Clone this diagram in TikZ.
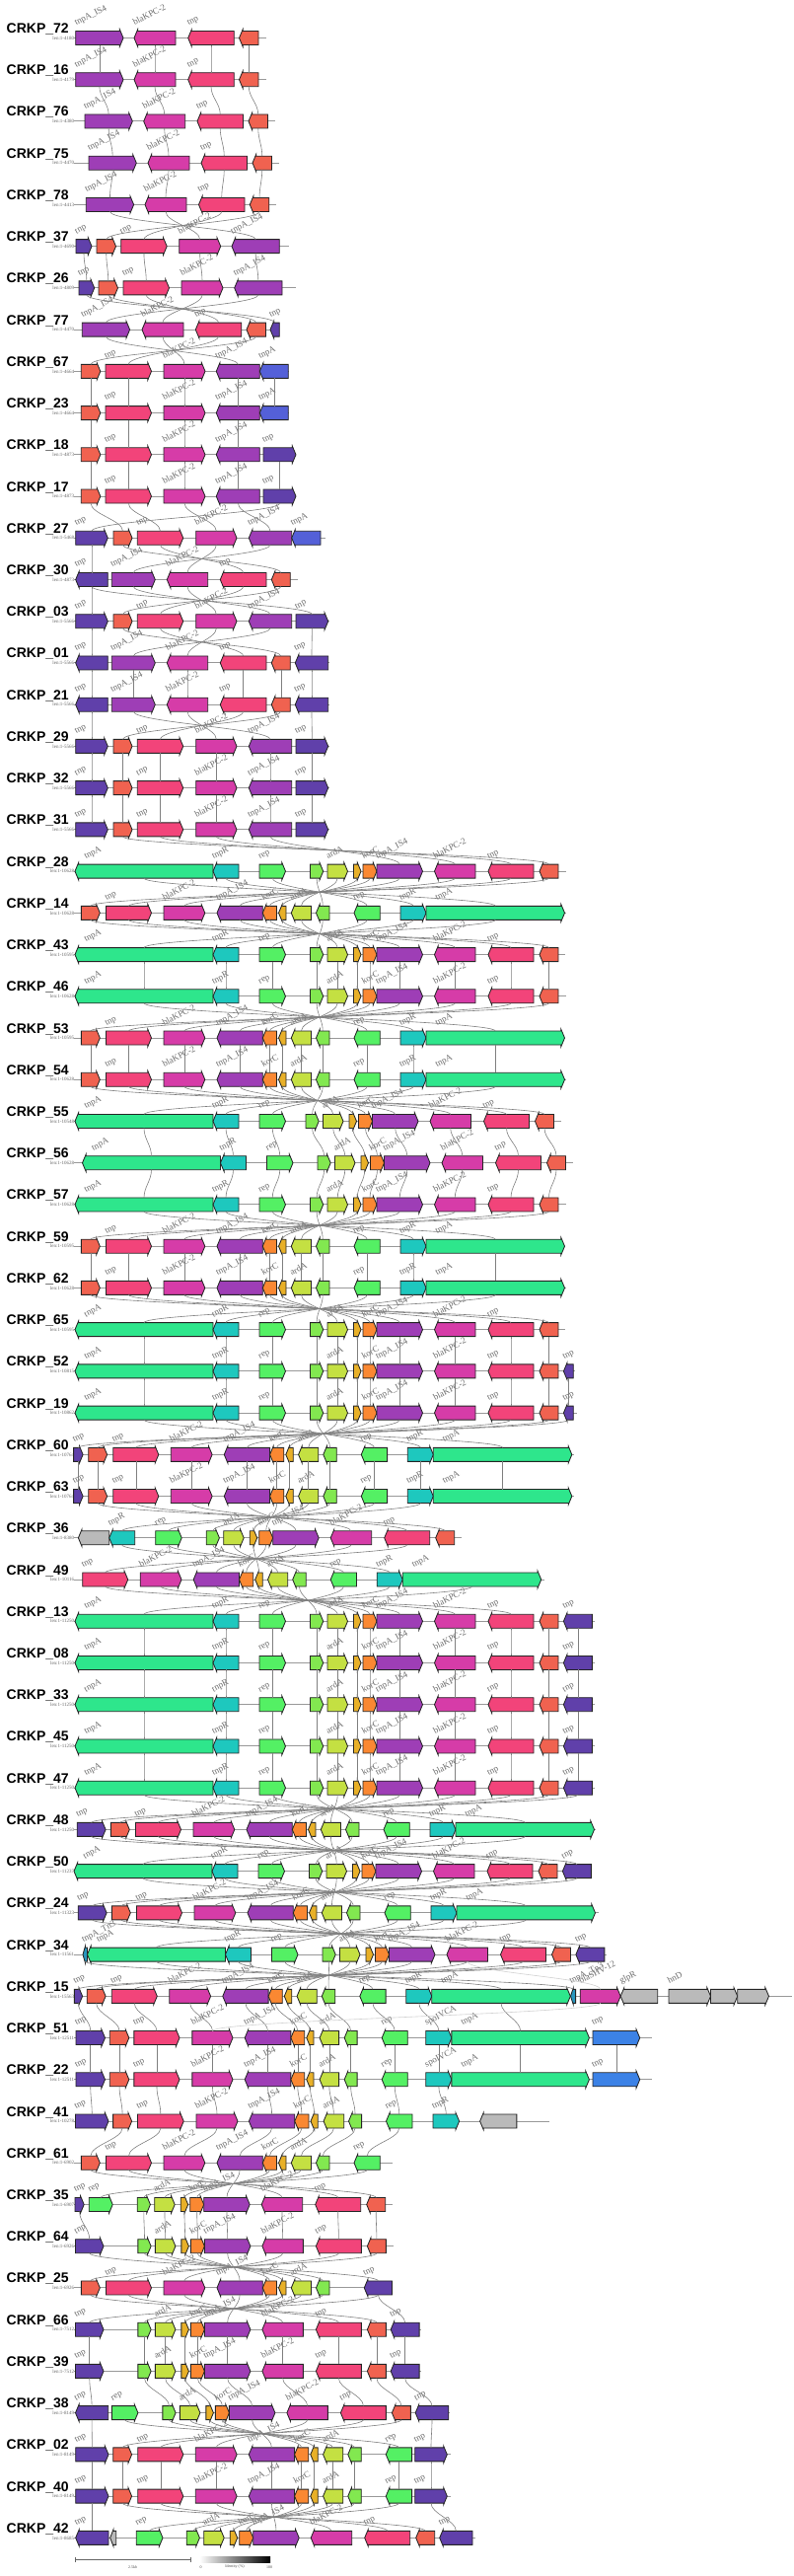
\documentclass[tikz,border=0pt]{standalone}
\usepackage{fontspec}
\setmainfont{Liberation Serif}
\newfontfamily\rowfont{Liberation Sans}
\definecolor{cP}{RGB}{158,62,182}
\definecolor{cB}{RGB}{214,60,168}
\definecolor{cT}{RGB}{242,68,122}
\definecolor{cR}{RGB}{240,98,80}
\definecolor{cD}{RGB}{96,64,170}
\definecolor{cU}{RGB}{84,96,216}
\definecolor{cG}{RGB}{46,230,140}
\definecolor{cE}{RGB}{30,200,190}
\definecolor{cQ}{RGB}{84,240,100}
\definecolor{cL}{RGB}{130,232,80}
\definecolor{cA}{RGB}{196,224,66}
\definecolor{cY}{RGB}{232,176,40}
\definecolor{cK}{RGB}{250,136,50}
\definecolor{cS}{RGB}{186,186,186}
\definecolor{cX}{RGB}{40,150,190}
\definecolor{cW}{RGB}{60,130,230}
\tikzset{
  track/.style={draw=black!40, line width=1pt},
  genebox/.style={rectangle, draw=none, inner sep=0pt, outer sep=0pt, minimum height=14pt},
  geneshape/.style={draw=black!85, line width=0.85pt, line join=miter},
  glabel/.style={font=\fontsize{9}{9}\selectfont, text=black!58, inner sep=0pt},
  rowname/.style={font=\rowfont\bfseries\fontsize{14}{14}\selectfont, inner sep=0pt},
  lentext/.style={font=\fontsize{5}{5}\selectfont, text=black!60, inner sep=0pt},
  link/.style={draw=black!50, line width=0.6pt},
  legtext/.style={font=\fontsize{4}{4}\selectfont, text=black!70, inner sep=0pt},
}
\makeatletter
\newcommand\deftype[5]{%
  \expandafter\def\csname gcol@#1\endcsname{#2}%
  \expandafter\def\csname glab@#1\endcsname{#3}%
  \expandafter\def\csname gnum@#1\endcsname{#4}%
  \expandafter\def\csname gofs@#1\endcsname{#5}}
\deftype{P}{cP}{tnpA\_IS4}{1}{0.5}
\deftype{B}{cB}{blaKPC-2}{2}{0.5}
\deftype{T}{cT}{tnp}{3}{0.5}
\deftype{R}{cR}{}{4}{0.5}
\deftype{U}{cU}{tnpA}{5}{0.5}
\deftype{G}{cG}{tnpA}{6}{11}
\deftype{E}{cE}{tnpR}{7}{0.5}
\deftype{V}{cE}{spoIVCA}{7}{0.5}
\deftype{Q}{cQ}{rep}{8}{0.5}
\deftype{L}{cL}{}{9}{0.5}
\deftype{A}{cA}{ardA}{10}{0.5}
\deftype{Y}{cY}{}{11}{0.5}
\deftype{K}{cK}{korC}{12}{0.5}
\deftype{X}{cX}{tnpA\_Tn3}{13}{0.5}
\deftype{H}{cB}{blaSHV-12}{14}{0.5}
\deftype{W}{cW}{tnp}{15}{0.5}
\deftype{D}{cD}{tnp}{20}{0.5}
\deftype{DL}{cD}{tnp}{21}{0.5}
\deftype{DR}{cD}{tnp}{22}{0.5}
\deftype{S}{cS}{}{0}{0.5}
\deftype{SG}{cS}{glpR}{0}{0.5}
\deftype{SH}{cS}{hnD}{0}{0.5}
% #1 row, #2 name, #3 len, #4 line end, #5 shift, #6 genes
\newcommand\genrow[6]{%
  \pgfmathsetmacro\ry{38.5+42.23*#1}%
  \draw[track] (75,\ry) -- (#4,\ry);
  \node[rowname, anchor=base west] (name#1) at (6.5,\ry-5) {CRKP\_#2};
  \node[lentext, anchor=east] (len#1) at (75.3,\ry) {len:1-#3};
  \edef\glist{#6}%
  \foreach \xa/\xb/\gdir/\ty [count=\gi] in \glist {%
    \pgfmathsetmacro\ga{\xa+#5}%
    \pgfmathsetmacro\gb{\xb+#5}%
    \pgfmathsetmacro\gw{\gb-\ga}%
    \pgfmathsetmacro\gc{(\ga+\gb)/2}%
    \pgfmathsetmacro\hh{min(3.6,\gw*0.55)}%
    \edef\gcol{\csname gcol@\ty\endcsname}%
    \node[genebox, minimum width=\gw pt] (g#1-\gi) at (\gc,\ry) {};
    \ifnum\gdir>0\relax
      \filldraw[geneshape, fill=\gcol] (\ga,\ry-7) -- (\gb-\hh,\ry-7) -- (\gb-\hh,\ry-8.6) -- (\gb,\ry) -- (\gb-\hh,\ry+8.6) -- (\gb-\hh,\ry+7) -- (\ga,\ry+7) -- cycle;
    \else
      \filldraw[geneshape, fill=\gcol] (\gb,\ry-7) -- (\ga+\hh,\ry-7) -- (\ga+\hh,\ry-8.6) -- (\ga,\ry) -- (\ga+\hh,\ry+8.6) -- (\ga+\hh,\ry+7) -- (\gb,\ry+7) -- cycle;
    \fi
    \expandafter\ifx\csname glab@\ty\endcsname\empty\else
      \node[glabel, rotate=27, anchor=base west] (lab#1-\gi) at (\ga+\csname gofs@\ty\endcsname,\ry-12.5) {\csname glab@\ty\endcsname};
    \fi
    \expandafter\xdef\csname gt@#1@\gi\endcsname{\csname gnum@\ty\endcsname}%
    \xdef\lastgi{\gi}%
  }%
  \expandafter\xdef\csname gn@#1\endcsname{\lastgi}%
}
\newcommand\maybelink[4]{%
  \edef\ta{\csname gt@#1@#2\endcsname}%
  \edef\tb{\csname gt@#3@#4\endcsname}%
  \def\dolink{0}%
  \ifnum\ta=\tb\relax \ifnum\ta>0\relax \def\dolink{1}\fi\fi
  \ifnum\ta>19\relax \ifnum\tb>19\relax
    \ifnum\ta=20\relax \def\dolink{1}\fi
    \ifnum\tb=20\relax \def\dolink{1}\fi
  \fi\fi
  \ifnum\dolink=1\relax
    \draw[link] (g#1-#2.south) .. controls +(0,11) and +(0,-11) .. (g#3-#4.north);
  \fi}
\makeatother
\def\TFmid{314.5/327.7/1/L,332/352.5/1/A,358.5/366/1/Y,368/382/1/K,382/428.5/1/P,440.5/482/-1/B,495/541/-1/T,547/566/-1/R}
\def\TF{76/216/-1/G,216/242/-1/E,263/289.5/1/Q,\TFmid}
\def\TRmid{220/266.3/-1/P,266.3/280.5/-1/K,282.5/290/-1/Y,295.3/315.5/-1/A,320.5/334/-1/L}
\def\TRnoR{107.5/153.5/1/T,166/207.8/1/B,\TRmid,359/385.3/-1/Q,406/432/1/E,432/572.5/1/G}
\def\TR{82.4/101.3/1/R,\TRnoR}
\def\GA{76.7/125/1/P,136/178/-1/B,190.7/237.3/-1/T,242.5/262/-1/R}
\def\GC{82.3/101.8/1/R,107/153.5/1/T,166/208/1/B,219.3/263.3/-1/P,263.3/292.3/-1/U}
\def\GD{82.3/101.8/1/R,107/153.5/1/T,166/208/1/B,219.3/263.3/-1/P,267/300/1/D}
\def\GF{76.7/109.3/1/DL,115/134/1/R,139.3/185.7/1/T,198.7/240/1/B,252.3/295.7/-1/P,300/332.7/1/DR}
\def\GR{76.7/109.3/-1/DL,113.3/157.3/1/P,169.3/210.7/-1/B,223.3/270/-1/T,275.3/294.3/-1/R,299.3/332.7/-1/DR}
\def\BD{\TF,571.4/600.4/-1/D}
\def\BW{77/106.5/1/D,111.3/130.8/1/R,135.9/182/1/T,194.9/236/1/B,248.2/294.9/-1/P,294.9/308.7/-1/K,310.8/318/-1/Y,324.1/343.6/-1/A,349.2/362.1/-1/L,387.2/413.3/-1/Q,431.8/457.9/1/V,457.9/597.4/1/G,601/648.7/1/W}
\def\BS{44.4/77.7/1/DL,82.4/101.3/1/R,107.5/153.5/1/T,166/207.8/1/B,\TRmid,359/385.3/-1/Q,388.4/421/1/DR}
\begin{document}
\begin{tikzpicture}[x=1pt,y=-1pt]
\useasboundingbox (0,0) rectangle (805,2611);
\fill[white] (0,0) rectangle (805,2611);
\genrow{0}{72}{4180}{270}{0}{\GA}
\genrow{1}{16}{4179}{270}{0}{\GA}
\genrow{2}{76}{4380}{279}{0}{86/134.3/1/P,145.7/187.7/-1/B,200/246.5/-1/T,252/271.5/-1/R}
\genrow{3}{75}{4470}{283}{0}{90/138.3/1/P,150/192/-1/B,204/250.5/-1/T,256/275.5/-1/R}
\genrow{4}{78}{4413}{280}{0}{87.3/135.6/1/P,147/189/-1/B,201.5/248/-1/T,253.3/272.8/-1/R}
\genrow{5}{37}{4690}{293}{0}{77/93/1/D,98/117.5/1/R,122.7/169.2/1/T,181.7/223.7/1/B,235/283.3/-1/P}
\genrow{6}{26}{4809}{300}{0}{80/95.7/1/D,100/119.5/1/R,125/171.5/1/T,184/226/1/B,237.7/286/-1/P}
\genrow{7}{77}{4470}{283}{0}{83.3/131.6/1/P,144/186/-1/B,198.3/244.8/-1/T,250/269.5/-1/R,274/283.3/-1/D}
\genrow{8}{67}{4664}{293}{0}{\GC}
\genrow{9}{23}{4664}{293}{0}{\GC}
\genrow{10}{18}{4873}{300}{0}{\GD}
\genrow{11}{17}{4873}{300}{0}{\GD}
\genrow{12}{27}{5468}{330}{0}{76.7/109.3/1/D,115/134/1/R,139.3/185.7/1/T,198.7/240/1/B,252.3/295.7/-1/P,295.7/325/-1/U}
\genrow{13}{30}{4873}{302}{0}{76.7/109.3/-1/D,113.3/157.3/1/P,169.3/210.7/-1/B,223.3/270/-1/T,275.3/294.3/-1/R}
\genrow{14}{03}{5566}{334}{0}{\GF}
\genrow{15}{01}{5566}{334}{0}{\GR}
\genrow{16}{21}{5566}{334}{0}{\GR}
\genrow{17}{29}{5566}{334}{0}{\GF}
\genrow{18}{32}{5566}{334}{0}{\GF}
\genrow{19}{31}{5566}{334}{0}{\GF}
\genrow{20}{28}{10628}{573.6}{0}{\TF}
\genrow{21}{14}{10628}{573.6}{0}{\TR}
\genrow{22}{43}{10595}{573}{0}{\TF}
\genrow{23}{46}{10628}{573.6}{0}{\TF}
\genrow{24}{53}{10595}{573}{0}{\TR}
\genrow{25}{54}{10628}{573.6}{0}{\TR}
\genrow{26}{55}{10548}{569}{0}{76/216/-1/G,216/242/-1/E,263/289.5/1/Q,310/323.2/1/L,327.5/348/1/A,354/361.5/1/Y,363.5/377.5/1/K,377.5/424/1/P,436/477.5/-1/B,490.5/536.5/-1/T,542.5/561.5/-1/R}
\genrow{27}{56}{10628}{581}{7.5}{\TF}
\genrow{28}{57}{10628}{573.6}{0}{\TF}
\genrow{29}{59}{10595}{573}{0}{\TR}
\genrow{30}{62}{10628}{573.6}{0}{\TR}
\genrow{31}{65}{10595}{573}{0}{\TF}
\genrow{32}{52}{10815}{583}{0}{\TF,571.4/581.3/-1/D}
\genrow{33}{19}{10862}{585}{0}{\TF,571.4/581.3/-1/D}
\genrow{34}{60}{10764}{582}{7.3}{67.3/76.8/1/D,\TR}
\genrow{35}{63}{10764}{582}{7.3}{67.3/76.8/1/D,\TR}
\genrow{36}{36}{8380}{468}{-105.3}{184.7/216/-1/S,216/242/-1/E,263/289.5/1/Q,\TFmid}
\genrow{37}{49}{10116}{552}{-23.8}{\TRnoR}
\genrow{38}{13}{11250}{603}{0}{\BD}
\genrow{39}{08}{11250}{603}{0}{\BD}
\genrow{40}{33}{11250}{603}{0}{\BD}
\genrow{41}{45}{11250}{603}{0}{\BD}
\genrow{42}{47}{11250}{603}{0}{\BD}
\genrow{43}{48}{11250}{604}{30}{48.2/77.1/1/D,\TR}
\genrow{44}{50}{11237}{600}{-1}{\BD}
\genrow{45}{24}{11323}{607}{31}{48.2/77.1/1/D,\TR}
\genrow{46}{34}{11561}{615}{12.5}{71.5/76/-1/X,\TF,571.4/600.4/-1/D}
\genrow{47}{15}{15563}{803}{5.8}{69.6/77.8/1/D,\TR,572.7/577.8/-1/X,582.4/623.4/1/H,623.4/660.9/-1/SG,672.2/714.7/1/SH,714.7/741.9/1/S,741.9/773.7/1/S}
\genrow{48}{51}{12511}{661}{0}{\BW}
\genrow{49}{22}{12511}{661}{0}{\BW}
\genrow{50}{41}{10278}{557}{0}{76.5/110/1/D,114.6/133.6/1/R,139.5/186.2/1/T,199/241/1/B,252.4/298.8/-1/P,298.8/313/-1/K,315/322.2/-1/Y,328.1/348.7/-1/A,353.5/366.6/-1/L,391.5/418/-1/Q,439/465.6/1/E,486.6/523.9/-1/S}
\genrow{51}{61}{6902}{398}{0}{82.4/101.3/1/R,107.5/153.5/1/T,166/207.8/1/B,\TRmid,359/385.3/-1/Q}
\genrow{52}{35}{6907}{398}{-175.3}{251.3/260.5/1/D,265.6/289.5/1/Q,\TFmid}
\genrow{53}{64}{6926}{399}{-174.6}{251.1/279.6/1/D,\TFmid}
\genrow{54}{25}{6926}{398}{0}{82.4/101.3/1/R,107.5/153.5/1/T,166/207.8/1/B,\TRmid,369.3/397.5/-1/D}
\genrow{55}{66}{7512}{427}{-174.6}{251.1/279.6/1/DL,\TFmid,570.8/599.7/-1/DR}
\genrow{56}{39}{7512}{427}{-174.6}{251.1/279.6/1/DL,\TFmid,570.8/599.7/-1/DR}
\genrow{57}{38}{8149}{456}{-149.6}{226.1/259.3/-1/DL,263/289.5/1/Q,\TFmid,570.8/604.4/-1/DR}
\genrow{58}{02}{8149}{457}{32.3}{\BS}
\genrow{59}{40}{8149}{457}{32.3}{\BS}
\genrow{60}{42}{8685}{482}{-125.3}{202/235.3/-1/DL,237/243/-1/S,263.6/290.3/1/Q,\TFmid,571/604.3/-1/DR}
% links between neighbouring rows
\foreach \lr in {0,...,59}{%
  \pgfmathtruncatemacro\ls{\lr+1}%
  \edef\na{\csname gn@\lr\endcsname}%
  \edef\nb{\csname gn@\ls\endcsname}%
  \foreach \li in {1,...,\na}{%
    \foreach \lj in {1,...,\nb}{%
      \maybelink{\lr}{\li}{\ls}{\lj}%
    }%
  }%
}
\draw[link, draw=black!18] (g46-10.south) .. controls +(0,11) and +(0,-11) .. (g47-14.north);
\draw[link, draw=black!18] (g47-14.south) .. controls +(0,11) and +(0,-11) .. (g48-4.north);
% scale bar
\coordinate (sb1) at (76,2594.5);
\coordinate (sb2) at (193,2594.5);
\draw[black!60, line width=0.6pt] (sb1) -- (sb2);
\draw[black!60, line width=0.6pt] ([yshift=-2.5pt]sb1) -- ([yshift=2.5pt]sb1);
\draw[black!60, line width=0.6pt] ([yshift=-2.5pt]sb2) -- ([yshift=2.5pt]sb2);
\node[legtext] (sblab) at (134.5,2602) {2.5kb};
% identity colour bar
\shade[left color=white, right color=black] (202.3,2591) rectangle (274,2597.5);
\node[legtext] (id0) at (203.5,2602) {0};
\node[legtext] (idlab) at (238,2602) {Identity (\%)};
\node[legtext] (id100) at (273,2602) {100};
\end{tikzpicture}
\end{document}
